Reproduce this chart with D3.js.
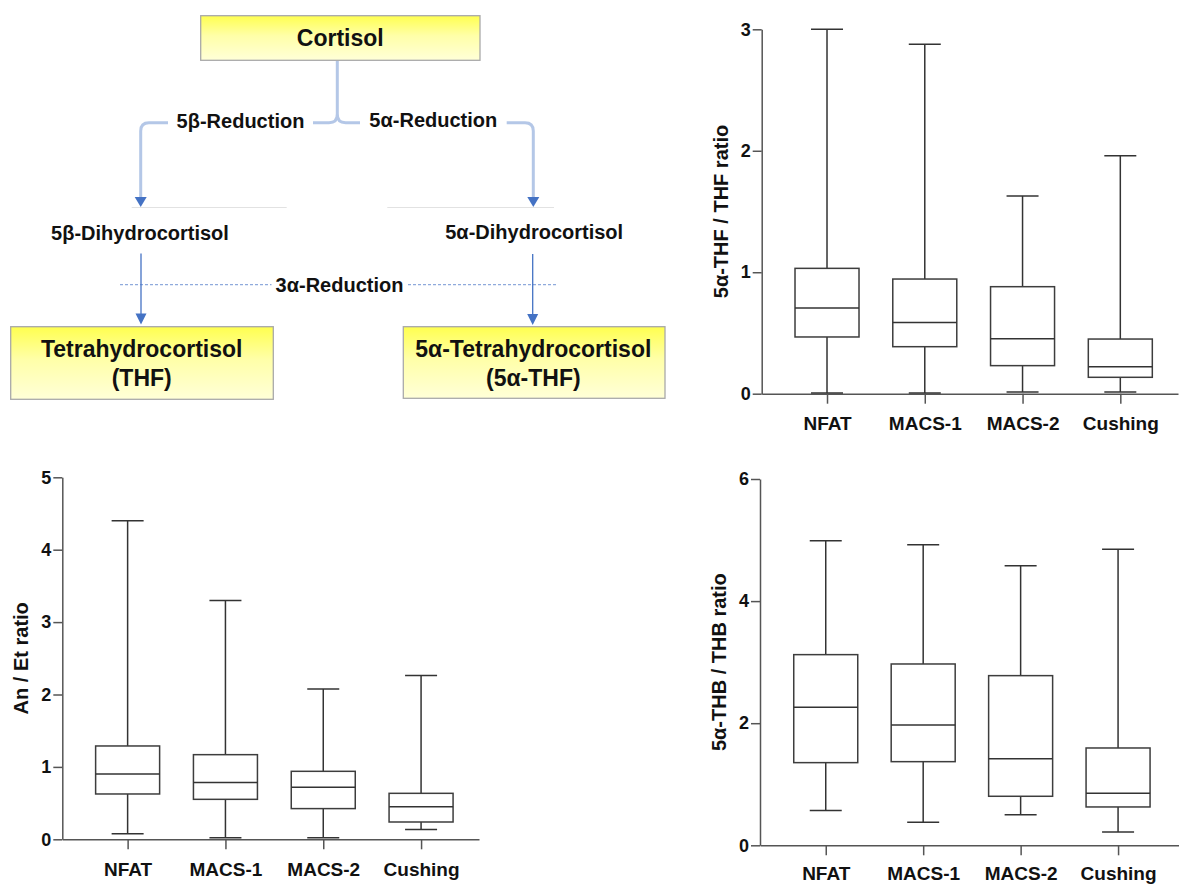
<!DOCTYPE html>
<html>
<head>
<meta charset="utf-8">
<script src="https://cdn.jsdelivr.net/npm/d3@7"></script>
<style>
  html, body { margin: 0; padding: 0; background: #fff; }
  svg { display: block; font-family: "Liberation Sans", Arial, sans-serif; }
</style>
</head>
<body>
<svg id="fig" width="1179" height="884"></svg>
<script>
// Patient groups shared by all three box plots
const groups = ["NFAT", "MACS-1", "MACS-2", "Cushing"];

// 5α-THF / THF ratio: min, quartiles, median, max per group
const thfMin = [0.005, 0.005, 0.014, 0.014];
const thfQ1  = [0.467, 0.387, 0.231, 0.135];
const thfMed = [0.705, 0.587, 0.453, 0.222];
const thfQ3  = [1.032, 0.944, 0.881, 0.450];
const thfMax = [3.000, 2.877, 1.628, 1.960];
const thfTicks = [0, 1, 2, 3];

// An / Et ratio
const anMin = [0.078, 0.023, 0.023, 0.134];
const anQ1  = [0.626, 0.552, 0.424, 0.239];
const anMed = [0.902, 0.783, 0.718, 0.451];
const anQ3  = [1.289, 1.169, 0.939, 0.635];
const anMax = [4.400, 3.300, 2.076, 2.261];
const anTicks = [0, 1, 2, 3, 4, 5];

// 5α-THB / THB ratio
const thbMin = [0.568, 0.377, 0.502, 0.218];
const thbQ1  = [1.354, 1.370, 0.803, 0.628];
const thbMed = [2.260, 1.971, 1.419, 0.852];
const thbQ3  = [3.123, 2.970, 2.779, 1.594];
const thbMax = [4.990, 4.924, 4.580, 4.848];
const thbTicks = [0, 2, 4, 6];

const svg = d3.select("#fig");
const FONT = "'Liberation Sans', Arial, sans-serif";

/* ---------- pathway scheme ---------- */
const defs = svg.append("defs");
const grad = defs.append("linearGradient")
  .attr("id", "boxFill").attr("x1", 0).attr("y1", 0).attr("x2", 0).attr("y2", 1);
grad.append("stop").attr("offset", "0%").attr("stop-color", "#ffff4f");
grad.append("stop").attr("offset", "45%").attr("stop-color", "#ffffa8");
grad.append("stop").attr("offset", "100%").attr("stop-color", "#ffffd8");

const scheme = svg.append("g").attr("class", "scheme");

function compoundBox(x0, y0, x1, y1) {
  scheme.append("rect")
    .attr("x", x0).attr("y", y0).attr("width", x1 - x0).attr("height", y1 - y0)
    .attr("fill", "url(#boxFill)").attr("stroke", "#a9a9a9").attr("stroke-width", 1.3);
}
function label(txt, x, y, size) {
  scheme.append("text")
    .attr("x", x).attr("y", y).attr("text-anchor", "middle")
    .attr("font-family", FONT).attr("font-weight", "bold")
    .attr("font-size", size).attr("fill", "#111").text(txt);
}
function arrowHead(x, tipY, w, h, color) {
  scheme.append("path")
    .attr("d", `M${x - w / 2},${tipY - h} L${x + w / 2},${tipY - h} L${x},${tipY} Z`)
    .attr("fill", color);
}

// thick light-blue branching connector from Cortisol
const conn = "#b4c7e7";
scheme.append("path").attr("fill", "none").attr("stroke", conn).attr("stroke-width", 3)
  .attr("d", "M337.3,60.5 V114.5 Q337.3,122.7 329,122.7 H313");
scheme.append("path").attr("fill", "none").attr("stroke", conn).attr("stroke-width", 3)
  .attr("d", "M337.3,114.5 Q337.3,122.7 345.6,122.7 H360");
scheme.append("path").attr("fill", "none").attr("stroke", conn).attr("stroke-width", 3)
  .attr("d", "M168,122.7 H149 Q140.7,122.7 140.7,131 V198");
scheme.append("path").attr("fill", "none").attr("stroke", conn).attr("stroke-width", 3)
  .attr("d", "M506.7,122.7 H525 Q533.3,122.7 533.3,131 V198");
arrowHead(140.7, 207, 12, 10, "#4472c4");
arrowHead(533.3, 207, 12, 10, "#4472c4");

// faint separators under the first arrows
scheme.append("line").attr("x1", 131.7).attr("x2", 286.7).attr("y1", 207.5).attr("y2", 207.5)
  .attr("stroke", "#e2e2e2").attr("stroke-width", 1);
scheme.append("line").attr("x1", 387.3).attr("x2", 554).attr("y1", 207.5).attr("y2", 207.5)
  .attr("stroke", "#e2e2e2").attr("stroke-width", 1);

// dashed 3α-reduction guide
scheme.append("line").attr("x1", 120).attr("x2", 271.5).attr("y1", 284.7).attr("y2", 284.7)
  .attr("stroke", "#8faadc").attr("stroke-width", 1.2).attr("stroke-dasharray", "3,2");
scheme.append("line").attr("x1", 408).attr("x2", 556.7).attr("y1", 284.7).attr("y2", 284.7)
  .attr("stroke", "#8faadc").attr("stroke-width", 1.2).attr("stroke-dasharray", "3,2");

// thin blue reduction arrows
scheme.append("line").attr("x1", 141).attr("x2", 141).attr("y1", 253.5).attr("y2", 315)
  .attr("stroke", "#4472c4").attr("stroke-width", 1.3);
scheme.append("line").attr("x1", 532.7).attr("x2", 532.7).attr("y1", 254).attr("y2", 315)
  .attr("stroke", "#4472c4").attr("stroke-width", 1.3);
arrowHead(141, 324.5, 11, 11, "#4472c4");
arrowHead(532.7, 325, 11, 11, "#4472c4");

// compound boxes
compoundBox(200.7, 15.7, 480, 60.3);
compoundBox(10.7, 326.7, 273.3, 399.3);
compoundBox(403.3, 326.7, 665, 398.3);

label("Cortisol", 340.3, 45.7, 23);
label("5β-Reduction", 240.5, 127.7, 20);
label("5α-Reduction", 433.3, 127.2, 20);
label("5β-Dihydrocortisol", 140, 240.3, 20);
label("5α-Dihydrocortisol", 534.2, 239.3, 20);
label("3α-Reduction", 339.5, 291.7, 20);
label("Tetrahydrocortisol", 141.7, 356.7, 23);
label("(THF)", 141.7, 385.7, 23);
label("5α-Tetrahydrocortisol", 533.3, 356.7, 23);
label("(5α-THF)", 533.3, 385.7, 23);

/* ---------- box plots ---------- */
function boxPlot(cfg) {
  const rows = groups.map((name, i) => ({
    name, min: cfg.min[i], q1: cfg.q1[i], med: cfg.med[i], q3: cfg.q3[i], max: cfg.max[i]
  }));

  const y = d3.scaleLinear().domain([0, d3.max(cfg.ticks)]).range([cfg.bottom, cfg.top]);
  const x = d3.scalePoint().domain(groups).range([cfg.left, cfg.right])
    .padding(cfg.padding).align(cfg.align);

  const g = svg.append("g").attr("class", "boxplot");
  const boxW = 64, capW = 32;
  const lineCol = "#333";

  // y axis
  const ya = g.append("g").attr("transform", `translate(${cfg.left},0)`)
    .call(d3.axisLeft(y).tickValues(cfg.ticks).tickFormat(d3.format("d"))
      .tickSize(9).tickSizeOuter(0).tickPadding(2));
  ya.select(".domain").attr("stroke", "#555").attr("stroke-width", 1.5);
  ya.selectAll(".tick line").attr("stroke", "#555").attr("stroke-width", 1.5);
  ya.selectAll(".tick text").attr("font-family", FONT).attr("font-weight", "bold")
    .attr("font-size", 18).attr("fill", "#111");

  // x axis
  const xa = g.append("g").attr("transform", `translate(0,${cfg.bottom})`)
    .call(d3.axisBottom(x).tickSize(10).tickSizeOuter(0).tickPadding(cfg.labelPad));
  xa.select(".domain").attr("stroke", "#555").attr("stroke-width", 1.5);
  xa.selectAll(".tick line").attr("stroke", "#555").attr("stroke-width", 1.5);
  xa.selectAll(".tick text").attr("font-family", FONT).attr("font-weight", "bold")
    .attr("font-size", 19).attr("fill", "#111");

  // axis title
  const midY = (cfg.top + cfg.bottom) / 2;
  g.append("text")
    .attr("transform", `translate(${cfg.left - 34},${midY}) rotate(-90)`)
    .attr("text-anchor", "middle")
    .attr("font-family", FONT).attr("font-weight", "bold").attr("font-size", 20)
    .attr("fill", "#111").text(cfg.title);

  const b = g.selectAll("g.box").data(rows).join("g").attr("class", "box");

  // whiskers
  b.append("line").attr("x1", d => x(d.name)).attr("x2", d => x(d.name))
    .attr("y1", d => y(d.max)).attr("y2", d => y(d.q3))
    .attr("stroke", lineCol).attr("stroke-width", 1.5);
  b.append("line").attr("x1", d => x(d.name)).attr("x2", d => x(d.name))
    .attr("y1", d => y(d.q1)).attr("y2", d => y(d.min))
    .attr("stroke", lineCol).attr("stroke-width", 1.5);
  // caps
  b.append("line").attr("x1", d => x(d.name) - capW / 2).attr("x2", d => x(d.name) + capW / 2)
    .attr("y1", d => y(d.max)).attr("y2", d => y(d.max))
    .attr("stroke", lineCol).attr("stroke-width", 1.5);
  b.append("line").attr("x1", d => x(d.name) - capW / 2).attr("x2", d => x(d.name) + capW / 2)
    .attr("y1", d => y(d.min)).attr("y2", d => y(d.min))
    .attr("stroke", lineCol).attr("stroke-width", 1.5);
  // box
  b.append("rect").attr("x", d => x(d.name) - boxW / 2).attr("width", boxW)
    .attr("y", d => y(d.q3)).attr("height", d => y(d.q1) - y(d.q3))
    .attr("fill", "#fff").attr("stroke", "#3d3d3d").attr("stroke-width", 1.5);
  // median
  b.append("line").attr("x1", d => x(d.name) - boxW / 2).attr("x2", d => x(d.name) + boxW / 2)
    .attr("y1", d => y(d.med)).attr("y2", d => y(d.med))
    .attr("stroke", lineCol).attr("stroke-width", 1.5);
}

boxPlot({
  title: "5α-THF / THF ratio", ticks: thfTicks,
  min: thfMin, q1: thfQ1, med: thfMed, q3: thfQ3, max: thfMax,
  left: 761.7, right: 1178, top: 29.3, bottom: 393.7, padding: 0.629, align: 0.531,
  labelPad: 13
});
boxPlot({
  title: "An / Et ratio", ticks: anTicks,
  min: anMin, q1: anQ1, med: anMed, q3: anQ3, max: anMax,
  left: 62.3, right: 479, top: 477.3, bottom: 839.3, padding: 0.63, align: 0.53,
  labelPad: 13
});
boxPlot({
  title: "5α-THB / THB ratio", ticks: thbTicks,
  min: thbMin, q1: thbQ1, med: thbMed, q3: thbQ3, max: thbMax,
  left: 760, right: 1179, top: 479, bottom: 845.3, padding: 0.65, align: 0.519,
  labelPad: 11
});
</script>
</body>
</html>
